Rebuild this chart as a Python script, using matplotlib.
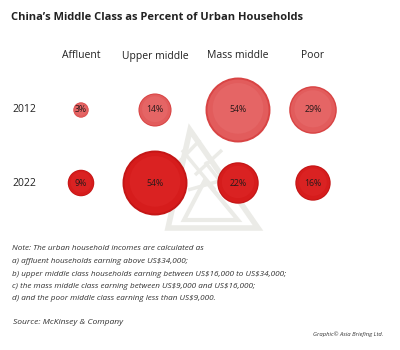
import numpy as np
import matplotlib.pyplot as plt
from matplotlib.patches import Circle, Polygon

classes = ["Affluent", "Upper middle", "Mass middle", "Poor"]
years = ["2012", "2022"]
share_2012 = [3, 14, 54, 29]
share_2022 = [9, 54, 22, 16]

title = "China\u2019s Middle Class as Percent of Urban Households"
notes = [
    "Note: The urban household incomes are calculated as",
    "a) affluent households earning above US$34,000;",
    "b) upper middle class households earning between US$16,000 to US$34,000;",
    "c) the mass middle class earning between US$9,000 and US$16,000;",
    "d) and the poor middle class earning less than US$9,000.",
]
source = "Source: McKinsey & Company"
credit = "Graphic\u00a9 Asia Briefing Ltd."

plt.rcParams['font.family'] = ['Open Sans', 'DejaVu Sans']

fig = plt.figure(figsize=(4, 3.5), dpi=100)
ax = fig.add_axes([0, 0, 1, 1])
ax.set_xlim(0, 400)
ax.set_ylim(350, 0)
ax.set_aspect("equal")
ax.axis("off")

col_x = [81, 155, 238, 313]
row_y = [110, 183]
k = 4.42  # radius per sqrt(percent), area-proportional bubbles

# faint watermark logo
wm = "#ebebe7"
outer = Polygon([(190, 130), (258, 228), (168, 228)], closed=True, fill=False,
                ec=wm, lw=4, zorder=1)
inner = Polygon([(205, 180), (238, 220), (184, 220)], closed=True, fill=False,
                ec=wm, lw=3, zorder=1)
ax.add_patch(outer)
ax.add_patch(inner)
for x0, y0, x1, y1 in [(182, 150, 215, 190), (176, 165, 200, 140), (195, 175, 222, 150),
                       (188, 190, 230, 178), (205, 162, 235, 200)]:
    ax.plot([x0, x1], [y0, y1], color=wm, lw=2.5, zorder=1, solid_capstyle="butt")

styles = [("#d84444", "#e25c5c", "#e56565"), ("#c41616", "#d61c1c", "#da2222")]
for yi, (vals, y) in enumerate(zip([share_2012, share_2022], row_y)):
    edge, mid, core = styles[yi]
    for x, v in zip(col_x, vals):
        r = k * np.sqrt(v)
        ax.add_patch(Circle((x, y), r, fc=edge, ec="none", zorder=2))
        ax.add_patch(Circle((x, y), r * 0.94, fc=mid, ec="none", zorder=3))
        ax.add_patch(Circle((x, y - r * 0.05), r * 0.78, fc=core, ec="none", zorder=4))
        ax.text(x, y, f"{v}%", ha="center", va="center", fontsize=6.3,
                color="#2a1a1a", zorder=5)

for x, c in zip(col_x, classes):
    ax.text(x, 56, c, ha="center", va="center", fontsize=7.5, color="#222222")
for y, yr in zip(row_y, years):
    ax.text(12, y, yr, ha="left", va="center", fontsize=7.5, color="#222222")

ax.text(11, 17, title, ha="left", va="center", fontsize=8.0, fontweight="bold",
        color="#222222")

for i, line in enumerate(notes):
    ax.text(12, 249 + i * 12.5, line, ha="left", va="center", fontsize=5.9,
            style="italic", color="#333333", parse_math=False)
ax.text(13, 322, source, ha="left", va="center", fontsize=6.1, style="italic",
        color="#333333")
ax.text(383, 334, credit, ha="right", va="center", fontsize=4.2, style="italic",
        color="#333333")

fig.savefig("out.png", dpi=100)
